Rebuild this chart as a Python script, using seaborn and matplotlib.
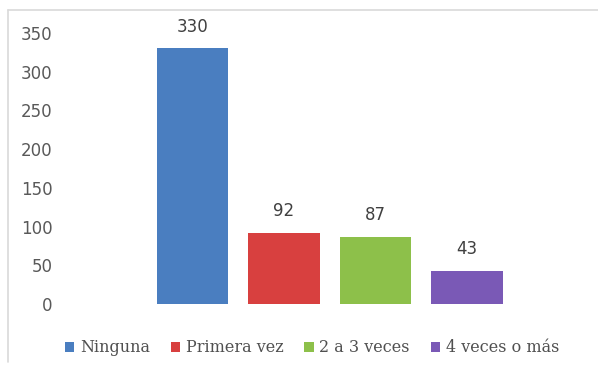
import matplotlib
matplotlib.use("Agg")
import matplotlib.pyplot as plt
from matplotlib.patches import Patch
from matplotlib.lines import Line2D
import seaborn as sns
import pandas as pd

categories = ["Ninguna", "Primera vez", "2 a 3 veces", "4 veces o más"]
values = [330, 92, 87, 43]
colors = ["#4a7ec0", "#d8403f", "#8dc04a", "#7a59b6"]
y_ticks = [0, 50, 100, 150, 200, 250, 300, 350]

sns.set_theme(style="white")
plt.rcParams["font.family"] = ["DejaVu Sans"]

W, H = 598, 374
fig = plt.figure(figsize=(W / 100, H / 100), dpi=100)
fig.patch.set_facecolor("white")

# plot area in pixel coordinates
left_px, right_px, top_px, bottom_px = 62, 598, 33, 304
ax = fig.add_axes([left_px / W, 1 - bottom_px / H,
                   (right_px - left_px) / W, (bottom_px - top_px) / H])

df = pd.DataFrame({"cat": categories, "val": values})
sns.barplot(data=df, x="cat", y="val", hue="cat", palette=colors,
            hue_order=categories, order=categories, width=0.78,
            saturation=1, linewidth=0, legend=False, ax=ax)

# category spacing ~91.5 px, first bar centred at x=192.5 px
step = 91.5
ax.set_xlim(-(192.5 - left_px) / step, (right_px - 192.5) / step)
ax.set_ylim(0, 350)
ax.set_yticks(y_ticks)
ax.set_yticklabels([str(t) for t in y_ticks], fontsize=12, color="#595959")
ax.set_xticks([])
ax.set_xlabel("")
ax.set_ylabel("")
ax.tick_params(axis="y", length=0, pad=7)
for s in ax.spines.values():
    s.set_visible(False)
ax.patch.set_alpha(0)

for i, v in enumerate(values):
    ax.annotate(str(v), (i, v), xytext=(0, 9), textcoords="offset points",
                ha="center", va="bottom", fontsize=12, color="#404040")

handles = [Patch(facecolor=c, edgecolor="none") for c in colors]
fig.legend(handles, categories, loc="center", bbox_to_anchor=(312 / W, 1 - 348 / H),
           ncol=4, frameon=False, prop={"family": "DejaVu Serif", "size": 11.5},
           labelcolor="#505050", handlelength=0.6, handleheight=0.6,
           handletextpad=0.35, columnspacing=1.3)

# light chart-area border along the top and left edges
fig.add_artist(Line2D([8 / W, 1], [1 - 10 / H, 1 - 10 / H], color="#d9d9d9", lw=1.2))
fig.add_artist(Line2D([8 / W, 8 / W], [1 - 10 / H, 1 - 362 / H], color="#d9d9d9", lw=1.2))

fig.savefig("out.png", dpi=100)
